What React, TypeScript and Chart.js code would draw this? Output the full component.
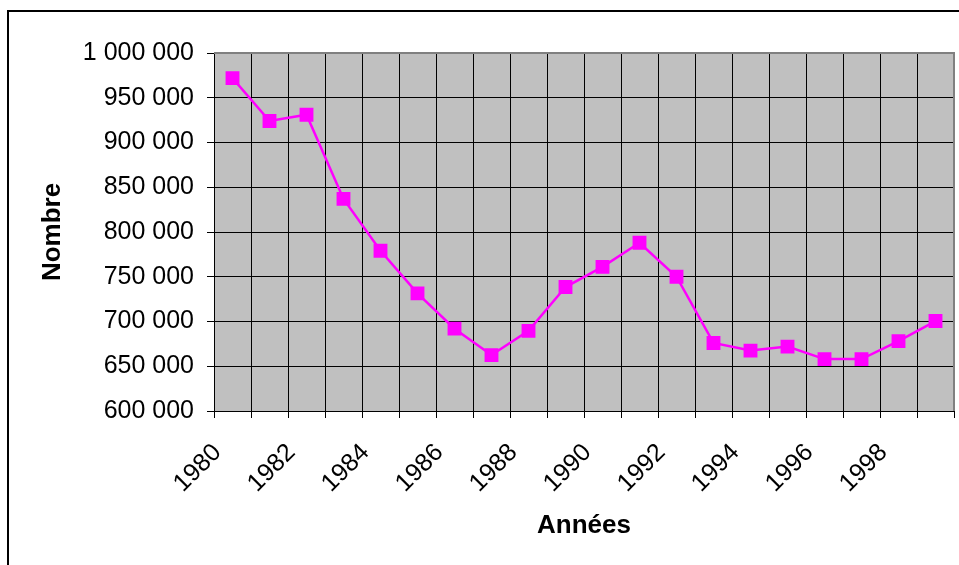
import React, { useEffect, useRef } from 'react';
import { Chart, registerables } from 'chart.js';

Chart.register(...registerables);

// Categories (years) and series values
const years: string[] = [
  '1980', '1981', '1982', '1983', '1984', '1985', '1986', '1987', '1988', '1989',
  '1990', '1991', '1992', '1993', '1994', '1995', '1996', '1997', '1998', '1999',
];
const nombre: number[] = [
  972000, 924000, 931000, 837000, 779000, 731500, 692000, 662500, 689500, 738500,
  761000, 788000, 750000, 676000, 667500, 672000, 658000, 658000, 678000, 700500,
];
const yMin = 600000;
const yMax = 1000000;
const yStep = 50000;
const xTitle = 'Années';
const yTitle = 'Nombre';

const FONT = '"Liberation Sans", Arial, Helvetica, sans-serif';

function fmt(v: number): string {
  return String(Math.round(v)).replace(/\B(?=(\d{3})+(?!\d))/g, ' ');
}

export default function App() {
  const ref = useRef<HTMLCanvasElement>(null);

  useEffect(() => {
    if (!ref.current) return;
    const plotFrame = {
      id: 'plotFrame',
      beforeDraw(chart: any) {
        const { ctx, chartArea: a } = chart;
        ctx.save();
        ctx.fillStyle = '#C0C0C0';
        ctx.fillRect(a.left, a.top, a.right - a.left, a.bottom - a.top);
        ctx.restore();
      },
      afterDraw(chart: any) {
        const { ctx, chartArea: a } = chart;
        ctx.save();
        ctx.strokeStyle = '#808080';
        ctx.lineWidth = 2;
        ctx.beginPath();
        ctx.moveTo(a.left, a.top);
        ctx.lineTo(a.right, a.top);
        ctx.lineTo(a.right, a.bottom);
        ctx.stroke();
        ctx.restore();
      },
    };

    const chart = new Chart(ref.current, {
      type: 'line',
      data: {
        labels: years,
        datasets: [
          {
            data: nombre,
            borderColor: '#FF00FF',
            backgroundColor: '#FF00FF',
            borderWidth: 2.5,
            pointStyle: 'rect',
            pointRadius: 9.8,
            pointBorderWidth: 0,
            pointBackgroundColor: '#FF00FF',
            tension: 0,
            fill: false,
          },
        ],
      },
      options: {
        responsive: false,
        animation: false,
        devicePixelRatio: 1,
        layout: { autoPadding: false, padding: { left: 0, top: 53, right: 5, bottom: 0 } },
        plugins: {
          legend: { display: false },
          tooltip: { enabled: false },
        },
        scales: {
          x: {
            type: 'category',
            offset: true,
            grid: { color: '#000000', lineWidth: 1, tickLength: 7, offset: true, tickColor: '#000000' },
            border: { color: '#000000', width: 1 },
            ticks: {
              autoSkip: false,
              minRotation: 45,
              maxRotation: 45,
              padding: 20,
              labelOffset: -15,
              color: '#000000',
              font: { family: FONT, size: 25 },
              callback: (_v: any, i: number) => (i % 2 === 0 ? years[i] : ''),
            },
            title: {
              display: true,
              text: xTitle,
              color: '#000000',
              font: { family: FONT, size: 26, weight: 'bold' },
              padding: { top: 0, bottom: 24 },
            },
            afterFit: (s: any) => {
              s.height = 154;
              s.paddingLeft = 0;
              s.paddingRight = 0;
            },
          },
          y: {
            min: yMin,
            max: yMax,
            grid: { color: '#000000', lineWidth: 1, tickLength: 7, tickColor: '#000000' },
            border: { color: '#000000', width: 1 },
            ticks: {
              stepSize: yStep,
              padding: 13,
              color: '#000000',
              font: { family: FONT, size: 25 },
              callback: (v: any) => fmt(Number(v)),
            },
            title: {
              display: true,
              text: yTitle,
              color: '#000000',
              font: { family: FONT, size: 26, weight: 'bold' },
              padding: { top: 37, bottom: 0 },
            },
            afterFit: (s: any) => {
              s.width = 214;
            },
          },
        },
      },
      plugins: [plotFrame],
    } as any);

    return () => chart.destroy();
  }, []);

  return (
    <>
      <div
        style={{
          position: 'fixed',
          left: 7,
          top: 10,
          width: 1000,
          height: 600,
          border: '2px solid #000',
          pointerEvents: 'none',
        }}
      />
      <canvas
        ref={ref}
        width={959}
        height={565}
        style={{ position: 'fixed', left: 0, top: 0, width: 959, height: 565 }}
      />
    </>
  );
}
